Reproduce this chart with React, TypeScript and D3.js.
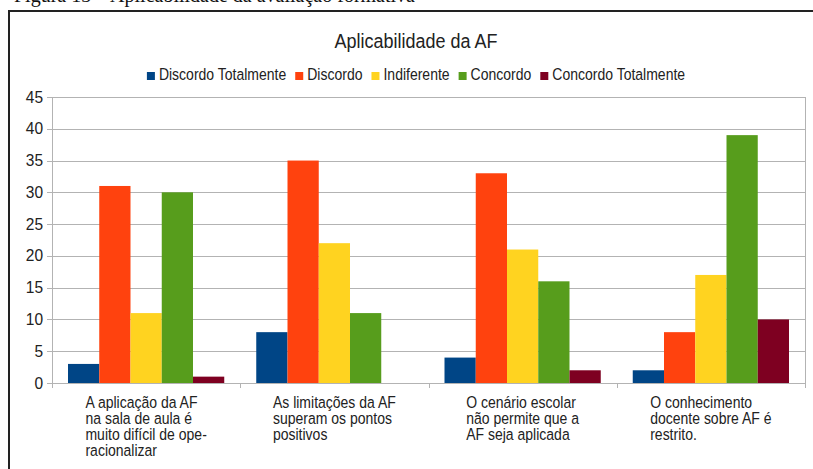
import { useEffect, useRef } from "react";
import * as d3 from "d3";

const categories = [
  ["A aplicação da AF", "na sala de aula é", "muito difícil de ope-", "racionalizar"],
  ["As limitações da AF", "superam os pontos", "positivos"],
  ["O cenário escolar", "não permite que a", "AF seja aplicada"],
  ["O conhecimento", "docente sobre AF é", "restrito."],
];
const seriesNames = ["Discordo Totalmente", "Discordo", "Indiferente", "Concordo", "Concordo Totalmente"];
const seriesColors = ["#004586", "#ff420e", "#ffd320", "#579d1c", "#7e0021"];
const discordoTotalmente = [3, 8, 4, 2];
const discordo = [31, 35, 33, 8];
const indiferente = [11, 22, 21, 17];
const concordo = [30, 11, 16, 39];
const concordoTotalmente = [1, 0, 2, 10];
const yTicks = [0, 5, 10, 15, 20, 25, 30, 35, 40, 45];

const W = 813;
const H = 469;
const SY = 1.12; // text in the picture is slightly stretched vertically
const FONT = "'Liberation Sans', Arial, sans-serif";

export default function App() {
  const ref = useRef<SVGSVGElement | null>(null);

  useEffect(() => {
    const svg = d3.select(ref.current!);
    svg.selectAll("*").remove();

    const values = [discordoTotalmente, discordo, indiferente, concordo, concordoTotalmente];
    const rows = categories.map((c, i) => ({ i, vals: values.map((s) => s[i]) }));

    const x0 = d3.scaleBand<number>().domain(d3.range(categories.length)).range([52, 805]);
    const x1 = d3
      .scaleBand<number>()
      .domain(d3.range(seriesNames.length))
      .range([16, x0.bandwidth() - 16]);
    const y = d3.scaleLinear().domain([0, 45]).range([383, 97]);

    svg.append("rect").attr("width", W).attr("height", H).attr("fill", "#fff");

    // caption of the page, cut off at top
    svg
      .append("text")
      .attr("x", 14)
      .attr("y", 2)
      .style("font", "20px 'Liberation Serif', 'Times New Roman', serif")
      .attr("fill", "#111")
      .text("Figura 13 – Aplicabilidade da avaliação formativa");

    // frame
    svg
      .append("path")
      .attr("d", `M9,${H} V11 H${W}`)
      .attr("fill", "none")
      .attr("stroke", "#222")
      .attr("stroke-width", 2);

    const st = (sel: any, x: number, yy: number) =>
      sel.attr("transform", `translate(${x},${yy}) scale(1,${SY})`);

    // title
    st(svg.append("text"), 416, 48)
      .attr("text-anchor", "middle")
      .style("font", `18px ${FONT}`)
      .attr("fill", "#222")
      .text("Aplicabilidade da AF");

    // grid
    const grid = svg.append("g").attr("stroke", "#b3b3b3").attr("stroke-width", 1);
    grid
      .selectAll("line.h")
      .data(yTicks)
      .join("line")
      .attr("x1", 47)
      .attr("x2", 805)
      .attr("y1", (d) => Math.round(y(d)) + 0.5)
      .attr("y2", (d) => Math.round(y(d)) + 0.5);
    grid
      .selectAll("line.v")
      .data([52, 805])
      .join("line")
      .attr("x1", (d) => d + 0.5)
      .attr("x2", (d) => d + 0.5)
      .attr("y1", y(45))
      .attr("y2", y(0));
    grid
      .selectAll("line.t")
      .data(d3.range(categories.length + 1))
      .join("line")
      .attr("x1", (d) => Math.round(52 + d * x0.step()) + 0.5)
      .attr("x2", (d) => Math.round(52 + d * x0.step()) + 0.5)
      .attr("y1", y(0))
      .attr("y2", y(0) + 5);

    // y labels
    svg
      .append("g")
      .selectAll("text")
      .data(yTicks)
      .join("text")
      .attr("transform", (d) => `translate(43,${y(d) + 5.5}) scale(1,${SY})`)
      .attr("text-anchor", "end")
      .style("font", `15.5px ${FONT}`)
      .attr("fill", "#222")
      .text((d) => d);

    // bars
    const g = svg
      .append("g")
      .selectAll("g")
      .data(rows)
      .join("g")
      .attr("transform", (d) => `translate(${x0(d.i)},0)`);
    g.selectAll("rect")
      .data((d) => d.vals)
      .join("rect")
      .attr("x", (_, j) => x1(j)!)
      .attr("width", x1.bandwidth())
      .attr("y", (d) => y(d))
      .attr("height", (d) => y(0) - y(d))
      .attr("fill", (_, j) => seriesColors[j]);

    // category labels (left aligned block centred under the group)
    categories.forEach((lines, i) => {
      const tg = svg.append("g");
      const texts = lines.map((l, k) =>
        st(tg.append("text"), 0, 408 + k * 16)
          .style("font", `14px ${FONT}`)
          .attr("fill", "#222")
          .text(l)
      );
      const wMax = d3.max(texts, (t: any) => (t.node() as SVGTextElement).getComputedTextLength())!;
      tg.attr("transform", `translate(${x0(i)! + x0.bandwidth() / 2 - wMax / 2},0)`);
    });

    // legend
    const lg = svg.append("g");
    let cx = 0;
    seriesNames.forEach((name, j) => {
      lg.append("rect")
        .attr("x", cx)
        .attr("y", 72)
        .attr("width", 8)
        .attr("height", 8)
        .attr("fill", seriesColors[j]);
      const t = st(lg.append("text"), cx + 12, 80)
        .style("font", `14px ${FONT}`)
        .attr("fill", "#222")
        .text(name);
      cx += 12 + (t.node() as SVGTextElement).getComputedTextLength() + 9;
    });
    cx -= 9;
    lg.attr("transform", `translate(${416 - cx / 2},0)`);
  }, []);

  return (
    <svg
      ref={ref}
      width={W}
      height={H}
      style={{ position: "absolute", left: 0, top: 0, display: "block" }}
    />
  );
}
